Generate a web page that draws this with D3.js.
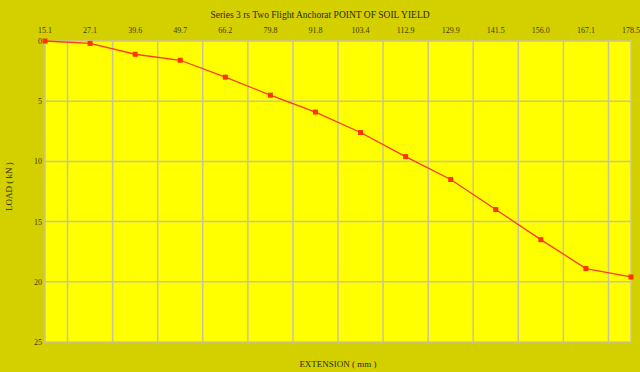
<!DOCTYPE html>
<html>
<head>
<meta charset="utf-8">
<script src="https://cdn.jsdelivr.net/npm/d3@7"></script>
<style>
  body { margin: 0; background: #d4d000; }
  svg { display: block; font-family: "Liberation Serif", "DejaVu Serif", serif; }
</style>
</head>
<body>
<div id="chart"></div>
<script>
// extension readings (mm), shown as category labels along the top
var extension = ['15.1', '27.1', '39.6', '49.7', '66.2', '79.8', '91.8', '103.4', '112.9', '129.9', '141.5', '156.0', '167.1', '178.5'];
// load (kN) at each reading
var load = [0, 0.2, 1.1, 1.6, 3.0, 4.5, 5.9, 7.6, 9.6, 11.5, 14.0, 16.5, 18.9, 19.6];
var loadTicks = [0, 5, 10, 15, 20, 25];

var width = 640, height = 372;
var margin = {top: 41, right: 9, bottom: 30, left: 45};

var svg = d3.select('#chart').append('svg')
  .attr('width', width).attr('height', height);

svg.append('rect').attr('width', width).attr('height', height).attr('fill', '#d4d000');

var x = d3.scalePoint()
  .domain(extension)
  .range([margin.left, width - margin.right]);

var y = d3.scaleLinear()
  .domain([0, 25])
  .range([margin.top, height - margin.bottom]);

// plot area
svg.append('rect')
  .attr('x', margin.left).attr('y', margin.top)
  .attr('width', width - margin.right - margin.left)
  .attr('height', y(25) - y(0))
  .attr('fill', '#ffff00')
  .attr('stroke', '#c8c49a').attr('stroke-width', 1.5);

// vertical grid lines sit half way between readings
var mids = d3.pairs(extension).map(function(p) { return (x(p[0]) + x(p[1])) / 2; });
svg.append('g').selectAll('line').data(mids).enter().append('line')
  .attr('x1', function(d) { return d; }).attr('x2', function(d) { return d; })
  .attr('y1', y(0)).attr('y2', y(25))
  .attr('stroke', '#c8c49a').attr('stroke-width', 1.5);

svg.append('g').selectAll('line').data(loadTicks.slice(1, -1)).enter().append('line')
  .attr('x1', margin.left).attr('x2', width - margin.right)
  .attr('y1', function(d) { return y(d); }).attr('y2', function(d) { return y(d); })
  .attr('stroke', '#c8c49a').attr('stroke-width', 1.5);

// top tick labels
svg.append('g').selectAll('text').data(extension).enter().append('text')
  .attr('x', function(d) { return x(d); })
  .attr('y', 33)
  .attr('text-anchor', 'middle')
  .attr('font-size', 8)
  .attr('fill', '#3a3a00')
  .text(function(d) { return d; });

// left tick labels
svg.append('g').selectAll('text').data(loadTicks).enter().append('text')
  .attr('x', 42)
  .attr('y', function(d) { return y(d) + 3; })
  .attr('text-anchor', 'end')
  .attr('font-size', 8)
  .attr('fill', '#3a3a00')
  .text(function(d) { return d; });

// titles
svg.append('text')
  .attr('x', 320).attr('y', 18)
  .attr('text-anchor', 'middle')
  .attr('font-size', 9.5)
  .attr('fill', '#2a2a00')
  .text('Series 3 rs Two Flight Anchorat POINT OF SOIL YIELD');

svg.append('text')
  .attr('x', (margin.left + width - margin.right) / 2).attr('y', 367)
  .attr('text-anchor', 'middle')
  .attr('font-size', 9)
  .attr('fill', '#2a2a00')
  .text('EXTENSION ( mm )');

svg.append('text')
  .attr('transform', 'translate(12,' + ((y(0) + y(25)) / 2 - 5) + ') rotate(-90)')
  .attr('text-anchor', 'middle')
  .attr('font-size', 9)
  .attr('fill', '#2a2a00')
  .text('LOAD ( kN )');

// series
var line = d3.line()
  .x(function(d, i) { return x(extension[i]); })
  .y(function(d) { return y(d); });

svg.append('path')
  .datum(load)
  .attr('d', line)
  .attr('fill', 'none')
  .attr('stroke', '#ff3a10')
  .attr('stroke-width', 1.3);

svg.append('g').selectAll('rect').data(load).enter().append('rect')
  .attr('x', function(d, i) { return x(extension[i]) - 2.5; })
  .attr('y', function(d) { return y(d) - 2.5; })
  .attr('width', 5).attr('height', 5)
  .attr('fill', '#ff3300');
</script>
</body>
</html>
